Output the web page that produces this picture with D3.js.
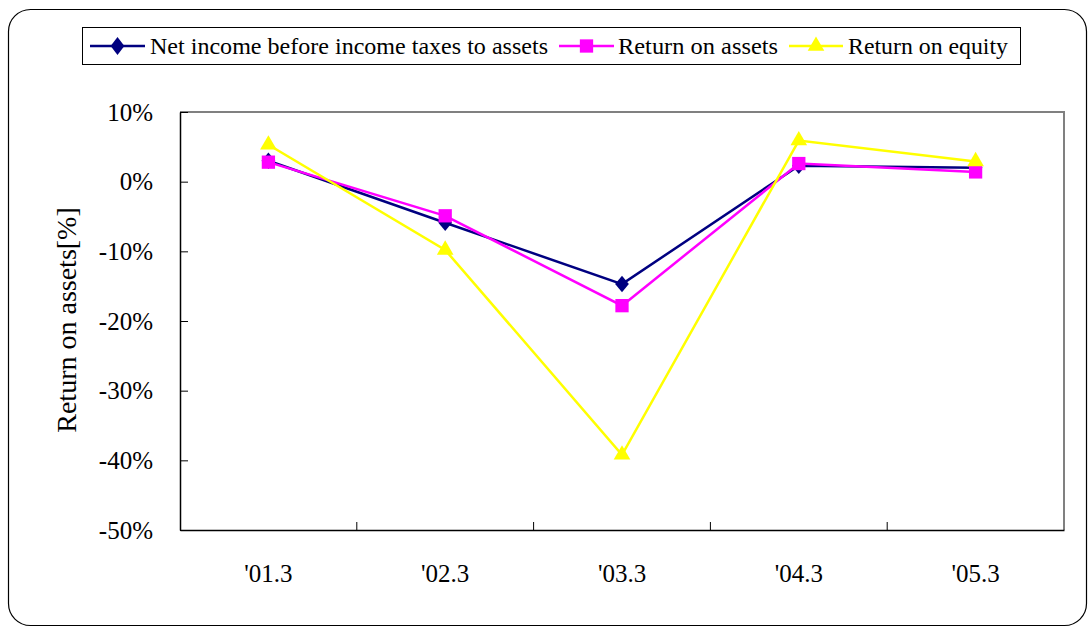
<!DOCTYPE html>
<html><head><meta charset="utf-8">
<script src="https://cdn.jsdelivr.net/npm/d3@7"></script>
<style>body{margin:0;background:#fff}svg{display:block}</style>
</head><body>
<svg id="c" width="1091" height="628" font-family="Liberation Serif"></svg>
<script>
const categories = ["'01.3","'02.3","'03.3","'04.3","'05.3"];
const netIncomeBeforeTaxes = [3.0, -5.9, -14.7, 2.3, 2.0];
const returnOnAssets = [2.8, -4.9, -17.8, 2.6, 1.4];
const returnOnEquity = [5.3, -9.8, -39.2, 5.9, 2.9];
const yTicks = [10, 0, -10, -20, -30, -40, -50];
const seriesNames = ["Net income before income taxes to assets","Return on assets","Return on equity"];

const FONT = '"Liberation Serif"';
const svg = d3.select("#c");
const L = 180, R = 1064, T = 112, B = 530;

svg.append("rect").attr("x",8.5).attr("y",9.5).attr("width",1078).attr("height",616)
  .attr("rx",22).attr("fill","#fff").attr("stroke","#000").attr("stroke-width",1.2);

const x = d3.scaleBand().domain(categories).range([L,R]);
const y = d3.scaleLinear().domain([-50,10]).range([B,T]);

svg.append("line").attr("x1",L).attr("x2",R+1).attr("y1",T).attr("y2",T).attr("stroke","#808080").attr("stroke-width",2);
svg.append("line").attr("x1",R).attr("x2",R).attr("y1",T).attr("y2",B).attr("stroke","#808080").attr("stroke-width",2);

const ya = svg.append("g").attr("transform",`translate(${L},0)`)
  .call(d3.axisLeft(y).tickValues(yTicks).tickFormat(d=>d+"%").tickSizeInner(-8).tickSizeOuter(0).tickPadding(27));
ya.attr("font-family","Liberation Serif").attr("font-size",25);
ya.select(".domain").attr("stroke","#000").attr("stroke-width",1.5);
ya.selectAll(".tick line").attr("stroke","#000").attr("stroke-width",1);
ya.selectAll("text").style("font-family",FONT).style("font-size","25px").attr("fill","#000");

const xa = svg.append("g").attr("transform",`translate(0,${B})`)
  .call(d3.axisBottom(x).tickSize(0).tickPadding(34));
xa.attr("font-family","Liberation Serif").attr("font-size",25);
xa.select(".domain").attr("stroke","#000").attr("stroke-width",1.5);
xa.selectAll("text").style("font-family",FONT).style("font-size","25px").attr("fill","#000");
xa.selectAll(".bt").data(categories.slice(1)).enter().append("line")
  .attr("x1",d=>x(d)).attr("x2",d=>x(d)).attr("y1",0).attr("y2",-8).attr("stroke","#000");

svg.append("text").attr("transform",`translate(76,${(T+B)/2-1}) rotate(-90)`)
  .attr("text-anchor","middle").style("font-family",FONT).style("font-size","28px").text("Return on assets[%]");

const cx = d => x(d)+x.bandwidth()/2;
const series = [
  {name:seriesNames[0], vals:netIncomeBeforeTaxes, color:"#000080", sym:d3.symbolDiamond2, size:120},
  {name:seriesNames[1], vals:returnOnAssets, color:"#ff00ff", sym:d3.symbolSquare2, size:225},
  {name:seriesNames[2], vals:returnOnEquity, color:"#ffff00", sym:d3.symbolTriangle, size:120}
];
const line = d3.line().x((d,i)=>cx(categories[i])).y(d=>y(d));
series.forEach(s=>{
  svg.append("path").datum(s.vals).attr("d",line).attr("fill","none").attr("stroke",s.color).attr("stroke-width",2.5);
  svg.selectAll(null).data(s.vals).enter().append("path")
    .attr("d",d3.symbol().type(s.sym).size(s.size))
    .attr("transform",(d,i)=>`translate(${cx(categories[i])},${y(d)}) scale(1,${s.sym===d3.symbolDiamond2?1.2:1})`)
    .attr("fill",s.color);
});

svg.append("rect").attr("x",82.5).attr("y",27.5).attr("width",938).attr("height",37)
  .attr("fill","#fff").attr("stroke","#000").attr("stroke-width",1);
const legLine = [[90,145],[559,614],[789,843]];
const legText = [[150,398],[618,160],[848,160]];
series.forEach((s,i)=>{
  const [a,b] = legLine[i], m = (a+b)/2;
  svg.append("line").attr("x1",a).attr("x2",b).attr("y1",46).attr("y2",46).attr("stroke",s.color).attr("stroke-width",2.5);
  svg.append("path").attr("d",d3.symbol().type(s.sym).size(s.size))
    .attr("transform",`translate(${m},46) scale(1,${s.sym===d3.symbolDiamond2?1.3:1})`).attr("fill",s.color);
  svg.append("text").attr("x",legText[i][0]).attr("y",54).attr("textLength",legText[i][1]).attr("lengthAdjust","spacingAndGlyphs")
    .style("font-family",FONT).style("font-size","23px").text(s.name);
});
</script>
</body></html>
